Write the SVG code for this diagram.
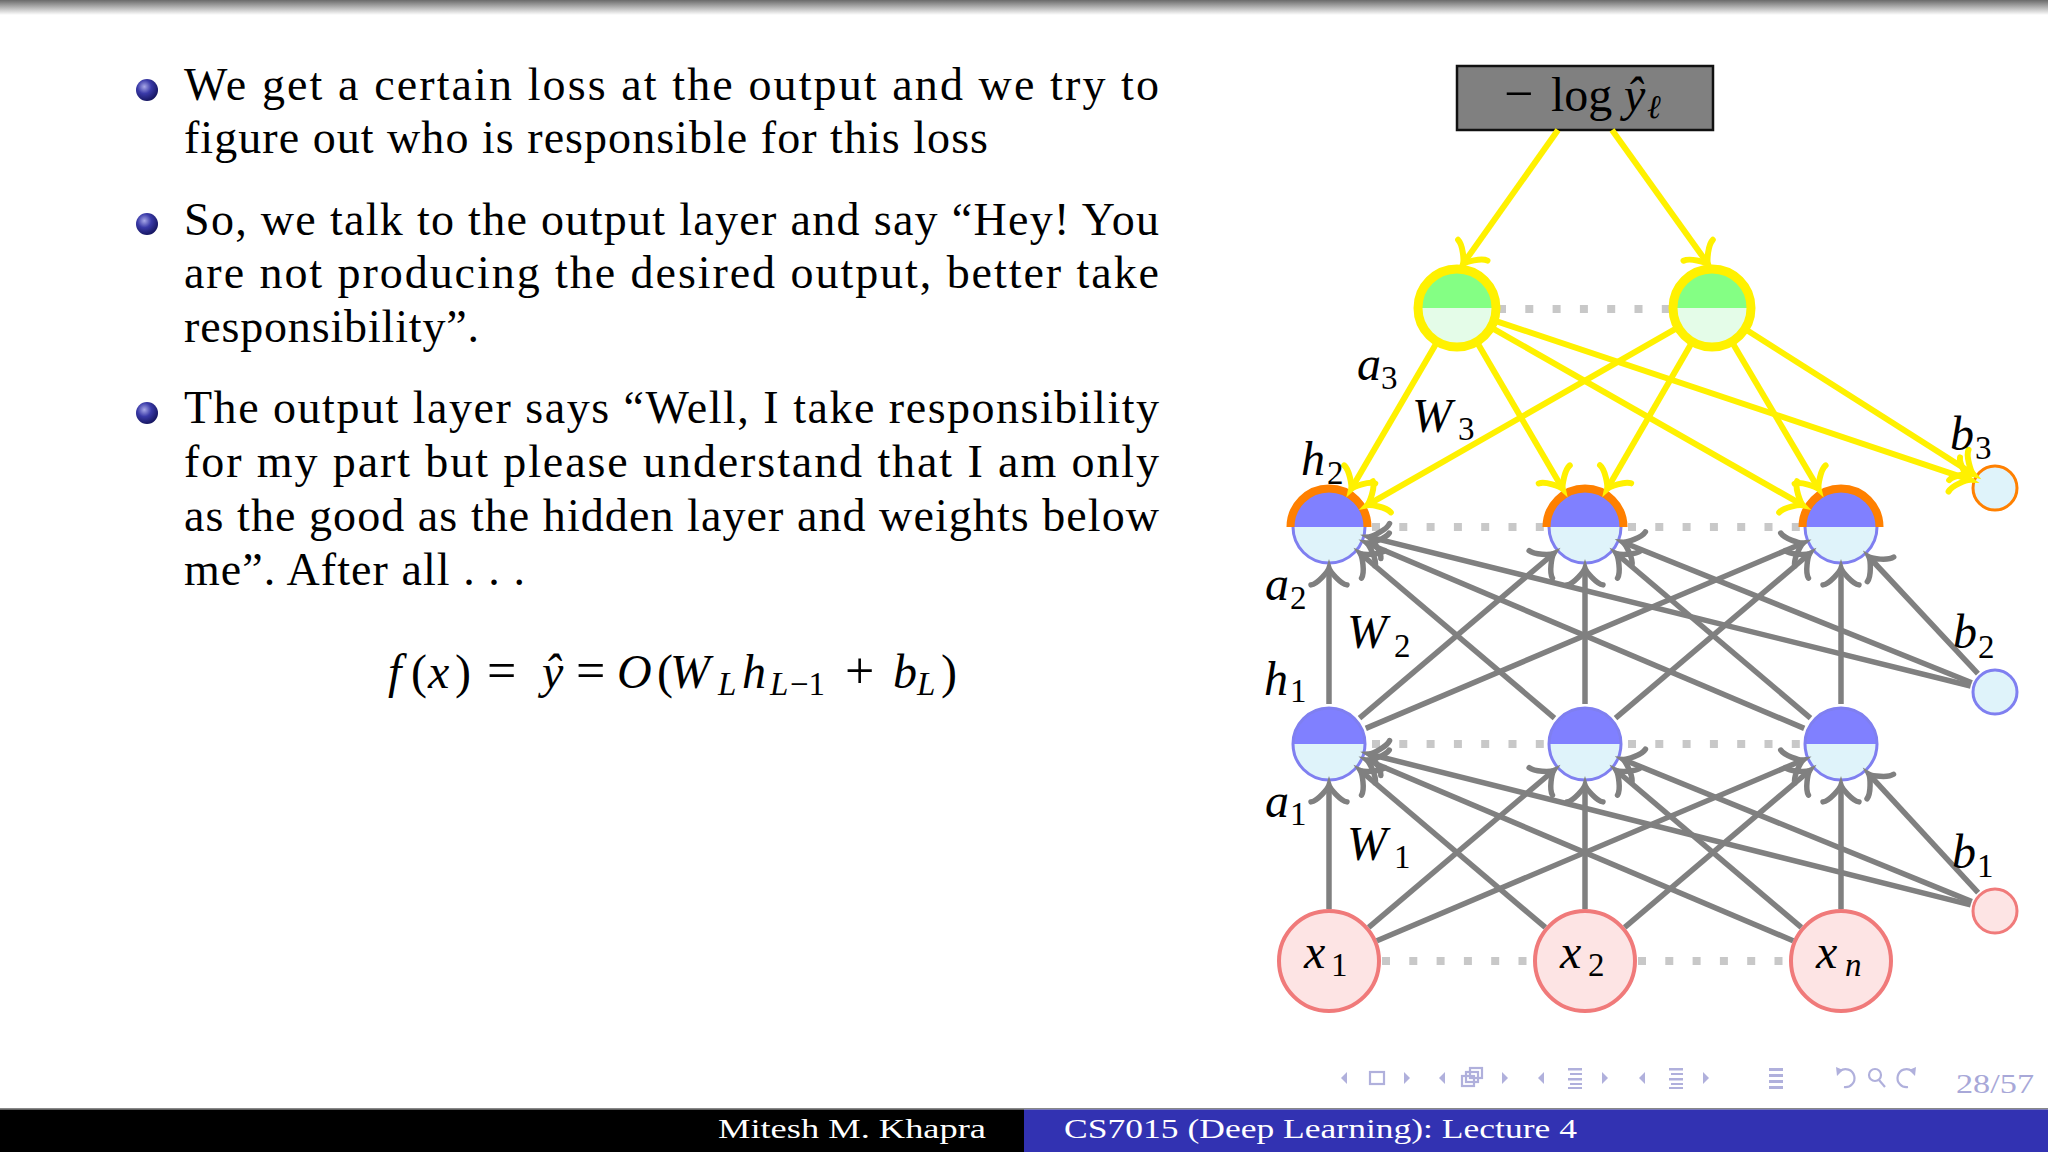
<svg xmlns="http://www.w3.org/2000/svg" width="2048" height="1152" viewBox="0 0 2048 1152">
<defs>
  <linearGradient id="topg" x1="0" y1="0" x2="0" y2="1">
    <stop offset="0" stop-color="#6a6a6a"/>
    <stop offset="1" stop-color="#ffffff"/>
  </linearGradient>
  <radialGradient id="ball" cx="0.38" cy="0.35" r="0.7">
    <stop offset="0" stop-color="#a8a8e8"/>
    <stop offset="0.45" stop-color="#3a3aa8"/>
    <stop offset="1" stop-color="#12125a"/>
  </radialGradient>
  <marker id="ay" markerUnits="userSpaceOnUse" markerWidth="44" markerHeight="44" viewBox="-22 -22 44 44" refX="0" refY="0" orient="auto" overflow="visible">
    <path d="M-16.9,-18 C-15.8,-11.2 -3.4,-1.1 0,0 C-3.4,1.1 -15.8,11.2 -16.9,18" fill="none" stroke="#FFF100" stroke-width="6" stroke-linecap="round"/>
  </marker>
  <marker id="ag" markerUnits="userSpaceOnUse" markerWidth="44" markerHeight="44" viewBox="-22 -22 44 44" refX="0" refY="0" orient="auto" overflow="visible">
    <path d="M-16.9,-18 C-15.8,-11.2 -3.4,-1.1 0,0 C-3.4,1.1 -15.8,11.2 -16.9,18" fill="none" stroke="#808080" stroke-width="5.5" stroke-linecap="round"/>
  </marker>
  <style>
    .body{font-family:"Liberation Serif","DejaVu Serif",serif;font-size:46px;fill:#000}
    .mi{font-family:"Liberation Serif","DejaVu Serif",serif;font-style:italic;font-size:48px;fill:#000}
    .rm{font-style:normal}
    .op{font-style:normal;font-size:52px}
    .sub{font-size:33px;font-style:normal}
    .subi{font-size:33px;font-style:italic}
    .dots{stroke:#C8C8C8;stroke-width:8;stroke-dasharray:8 19.3;fill:none}
    .ye{stroke:#FFF100;stroke-width:6;fill:none;marker-end:url(#ay)}
    .ge{stroke:#808080;stroke-width:5.5;fill:none;marker-end:url(#ag)}
    .hTop{fill:#8080FF}
    .hBot{fill:#DFF3FA}
    .hRing{fill:none;stroke:#7F7FF0;stroke-width:3}
    .cap{fill:none;stroke:#FF8000;stroke-width:8}
    .oTop{fill:#84FF84}
    .oBot{fill:#E4FCE8}
    .oRing{fill:none;stroke:#FFF100;stroke-width:9}
    .xNode{fill:#FDE4E4;stroke:#F07A7A;stroke-width:4}
    .nav{fill:#B0B0DC}
    .navs{fill:none;stroke:#B0B0DC;stroke-width:2.2}
  </style>
</defs>

<rect width="2048" height="1152" fill="#ffffff"/>
<rect x="0" y="0" width="2048" height="15" fill="url(#topg)"/>

<!-- Bullets and text -->
<g id="text-block">
  <circle cx="147" cy="90" r="11" fill="url(#ball)"/>
  <circle cx="147" cy="224" r="11" fill="url(#ball)"/>
  <circle cx="147" cy="413" r="11" fill="url(#ball)"/>
  <text class="body" x="184" y="100" textLength="975" lengthAdjust="spacing">We get a certain loss at the output and we try to</text>
  <text class="body" x="184" y="153" textLength="804" lengthAdjust="spacing">figure out who is responsible for this loss</text>
  <text class="body" x="184" y="235" textLength="975" lengthAdjust="spacing">So, we talk to the output layer and say “Hey! You</text>
  <text class="body" x="184" y="288" textLength="975" lengthAdjust="spacing">are not producing the desired output, better take</text>
  <text class="body" x="184" y="342" textLength="295" lengthAdjust="spacing">responsibility”.</text>
  <text class="body" x="184" y="423" textLength="975" lengthAdjust="spacing">The output layer says “Well, I take responsibility</text>
  <text class="body" x="184" y="477" textLength="975" lengthAdjust="spacing">for my part but please understand that I am only</text>
  <text class="body" x="184" y="531" textLength="975" lengthAdjust="spacing">as the good as the hidden layer and weights below</text>
  <text class="body" x="184" y="585" textLength="341" lengthAdjust="spacing">me”. After all . . .</text>
  <text class="mi" y="688"><tspan x="388">f</tspan><tspan class="rm" x="411">(</tspan><tspan x="428">x</tspan><tspan class="rm" x="455">)</tspan><tspan class="op" x="487">=</tspan><tspan x="542">ŷ</tspan><tspan class="op" x="576">=</tspan><tspan x="617">O</tspan><tspan class="rm" x="657">(</tspan><tspan x="670">W</tspan><tspan class="subi" x="718" y="695">L</tspan><tspan x="742" y="688">h</tspan><tspan class="subi" x="770" y="695">L</tspan><tspan class="sub" x="790" y="695">−1</tspan><tspan class="op" x="845" y="688">+</tspan><tspan x="893">b</tspan><tspan class="subi" x="917" y="695">L</tspan><tspan class="rm" x="941" y="688">)</tspan></text>
</g>

<!-- Dotted layer lines -->
<g id="dotted">
  <line class="dots" x1="1498" y1="309" x2="1672" y2="309"/>
  <line class="dots" x1="1372" y1="527" x2="1544" y2="527"/>
  <line class="dots" x1="1628" y1="527" x2="1800" y2="527"/>
  <line class="dots" x1="1372" y1="744" x2="1544" y2="744"/>
  <line class="dots" x1="1628" y1="744" x2="1800" y2="744"/>
  <line class="dots" x1="1382" y1="961" x2="1527" y2="961"/>
  <line class="dots" x1="1638" y1="961" x2="1783" y2="961"/>
</g>

<!-- Nodes -->
<g id="loss">
  <rect x="1457" y="66" width="256" height="64" fill="#808080" stroke="#111" stroke-width="2.5"/>
  <text class="mi" y="111"><tspan class="op" x="1504">−</tspan><tspan class="rm" x="1551">log</tspan><tspan x="1624">ŷ</tspan><tspan class="subi" x="1647" y="118">ℓ</tspan></text>
</g>
<g id="out1" transform="translate(1457,308)">
  <path class="oTop" d="M-39,0 A39,39 0 0 1 39,0 Z"/>
  <path class="oBot" d="M-39,0 A39,39 0 0 0 39,0 Z"/>
  <circle class="oRing" r="39"/>
</g>
<g id="out2" transform="translate(1712,308)">
  <path class="oTop" d="M-39,0 A39,39 0 0 1 39,0 Z"/>
  <path class="oBot" d="M-39,0 A39,39 0 0 0 39,0 Z"/>
  <circle class="oRing" r="39"/>
</g>
<g id="h2-1" transform="translate(1329,527)">
  <path class="hTop" d="M-36,0 A36,36 0 0 1 36,0 Z"/>
  <path class="hBot" d="M-36,0 A36,36 0 0 0 36,0 Z"/>
  <circle class="hRing" r="36"/>
  <path class="cap" d="M-38.5,0 A38.5,38.5 0 0 1 38.5,0"/>
</g>
<g id="h2-2" transform="translate(1585,527)">
  <path class="hTop" d="M-36,0 A36,36 0 0 1 36,0 Z"/>
  <path class="hBot" d="M-36,0 A36,36 0 0 0 36,0 Z"/>
  <circle class="hRing" r="36"/>
  <path class="cap" d="M-38.5,0 A38.5,38.5 0 0 1 38.5,0"/>
</g>
<g id="h2-3" transform="translate(1841,527)">
  <path class="hTop" d="M-36,0 A36,36 0 0 1 36,0 Z"/>
  <path class="hBot" d="M-36,0 A36,36 0 0 0 36,0 Z"/>
  <circle class="hRing" r="36"/>
  <path class="cap" d="M-38.5,0 A38.5,38.5 0 0 1 38.5,0"/>
</g>
<g id="h1-1" transform="translate(1329,744)">
  <path class="hTop" d="M-36,0 A36,36 0 0 1 36,0 Z"/>
  <path class="hBot" d="M-36,0 A36,36 0 0 0 36,0 Z"/>
  <circle class="hRing" r="36"/>
</g>
<g id="h1-2" transform="translate(1585,744)">
  <path class="hTop" d="M-36,0 A36,36 0 0 1 36,0 Z"/>
  <path class="hBot" d="M-36,0 A36,36 0 0 0 36,0 Z"/>
  <circle class="hRing" r="36"/>
</g>
<g id="h1-3" transform="translate(1841,744)">
  <path class="hTop" d="M-36,0 A36,36 0 0 1 36,0 Z"/>
  <path class="hBot" d="M-36,0 A36,36 0 0 0 36,0 Z"/>
  <circle class="hRing" r="36"/>
</g>
<g id="x1">
  <circle class="xNode" cx="1329" cy="961" r="50"/>
  <text class="mi" x="1304" y="968">x<tspan class="sub" x="1331" y="976">1</tspan></text>
</g>
<g id="x2">
  <circle class="xNode" cx="1585" cy="961" r="50"/>
  <text class="mi" x="1560" y="968">x<tspan class="sub" x="1588" y="976">2</tspan></text>
</g>
<g id="xn">
  <circle class="xNode" cx="1841" cy="961" r="50"/>
  <text class="mi" x="1816" y="968">x<tspan class="subi" x="1845" y="976">n</tspan></text>
</g>
<g id="b3">
  <circle cx="1995" cy="488" r="22" fill="#DFF3FA" stroke="#FF8000" stroke-width="3"/>
</g>
<g id="b2">
  <circle cx="1995" cy="692" r="22" fill="#DFF3FA" stroke="#7F7FF0" stroke-width="3"/>
</g>
<g id="b1">
  <circle cx="1995" cy="911" r="22" fill="#FDE4E4" stroke="#F07A7A" stroke-width="3"/>
</g>

<!-- Connectors -->
<g id="connectors">
  <path class="ye" d="M1558,130 L1463,264"/>
  <path class="ye" d="M1612,130 L1708,264"/>
  <path class="ye" d="M1435.8,344.3 L1351.2,489"/>
  <path class="ye" d="M1478.2,344.3 L1562.8,489"/>
  <path class="ye" d="M1493.5,328.8 L1802.8,505.2"/>
  <path class="ye" d="M1496.8,321.3 L1970.3,479.8"/>
  <path class="ye" d="M1675.5,328.8 L1367.2,505.2"/>
  <path class="ye" d="M1690.9,344.3 L1607.1,488.9"/>
  <path class="ye" d="M1733.3,344.2 L1818.7,489.1"/>
  <path class="ye" d="M1747.4,330.5 L1973.1,474"/>

  <path class="ge" d="M1329,704 L1329,568"/>
  <path class="ge" d="M1585,704 L1585,568"/>
  <path class="ge" d="M1841,704 L1841,568"/>
  <path class="ge" d="M1359.5,718.1 L1553.7,553.5"/>
  <path class="ge" d="M1365.8,728.4 L1803.3,543"/>
  <path class="ge" d="M1554.5,718.1 L1360.3,553.5"/>
  <path class="ge" d="M1615.5,718.1 L1809.7,553.5"/>
  <path class="ge" d="M1804.2,728.4 L1366.7,543"/>
  <path class="ge" d="M1810.5,718.1 L1616.3,553.5"/>
  <path class="ge" d="M1970.7,686 L1368.8,536.9"/>
  <path class="ge" d="M1971.8,682.7 L1623,542.3"/>
  <path class="ge" d="M1977.9,673.7 L1869,557"/>

  <path class="ge" d="M1329,909 L1329,785"/>
  <path class="ge" d="M1585,909 L1585,785"/>
  <path class="ge" d="M1841,909 L1841,785"/>
  <path class="ge" d="M1368.7,927.4 L1553.7,770.5"/>
  <path class="ge" d="M1376.9,940.7 L1803.3,760"/>
  <path class="ge" d="M1545.3,927.4 L1360.3,770.5"/>
  <path class="ge" d="M1624.7,927.4 L1809.7,770.5"/>
  <path class="ge" d="M1793.1,940.7 L1366.7,760"/>
  <path class="ge" d="M1801.3,927.4 L1616.3,770.5"/>
  <path class="ge" d="M1970.7,904.9 L1368.8,754"/>
  <path class="ge" d="M1971.8,901.6 L1623,759.5"/>
  <path class="ge" d="M1978.1,892.6 L1868.8,774.1"/>
</g>

<!-- Graph labels -->
<g id="labels">
  <text class="mi" x="1357" y="380">a<tspan class="sub" x="1381" y="389">3</tspan></text>
  <text class="mi" x="1412" y="432">W<tspan class="sub" x="1458" y="440">3</tspan></text>
  <text class="mi" x="1301" y="475">h<tspan class="sub" x="1327" y="484">2</tspan></text>
  <text class="mi" x="1950" y="450">b<tspan class="sub" x="1975" y="459">3</tspan></text>
  <text class="mi" x="1265" y="600">a<tspan class="sub" x="1290" y="609">2</tspan></text>
  <text class="mi" x="1347" y="648">W<tspan class="sub" x="1394" y="657">2</tspan></text>
  <text class="mi" x="1264" y="695">h<tspan class="sub" x="1290" y="702">1</tspan></text>
  <text class="mi" x="1953" y="648">b<tspan class="sub" x="1978" y="658">2</tspan></text>
  <text class="mi" x="1265" y="817">a<tspan class="sub" x="1290" y="825">1</tspan></text>
  <text class="mi" x="1347" y="860">W<tspan class="sub" x="1394" y="868">1</tspan></text>
  <text class="mi" x="1952" y="868">b<tspan class="sub" x="1977" y="877">1</tspan></text>
</g>

<!-- Navigation symbols -->
<g id="navigation">
  <path class="nav" d="M1347,1072 L1341,1078 L1347,1084 Z"/>
  <rect class="navs" x="1370" y="1072" width="14" height="12"/>
  <path class="nav" d="M1404,1072 L1410,1078 L1404,1084 Z"/>
  <path class="nav" d="M1445,1072 L1439,1078 L1445,1084 Z"/>
  <rect class="navs" x="1462" y="1076" width="12" height="10"/>
  <rect class="navs" x="1466" y="1072" width="12" height="10" fill="#fff"/>
  <rect class="navs" x="1470" y="1068" width="12" height="10" fill="#fff"/>
  <path class="nav" d="M1502,1072 L1508,1078 L1502,1084 Z"/>
  <path class="nav" d="M1544,1072 L1538,1078 L1544,1084 Z"/>
  <rect class="nav" x="1568" y="1068" width="14" height="2.5"/>
  <rect class="nav" x="1570" y="1073" width="12" height="2"/>
  <rect class="nav" x="1568" y="1078" width="14" height="2.5"/>
  <rect class="nav" x="1570" y="1083" width="12" height="2"/>
  <rect class="nav" x="1568" y="1087" width="14" height="2"/>
  <path class="nav" d="M1602,1072 L1608,1078 L1602,1084 Z"/>
  <path class="nav" d="M1645,1072 L1639,1078 L1645,1084 Z"/>
  <rect class="nav" x="1669" y="1068" width="14" height="2.5"/>
  <rect class="nav" x="1671" y="1073" width="12" height="2"/>
  <rect class="nav" x="1669" y="1078" width="14" height="2.5"/>
  <rect class="nav" x="1671" y="1083" width="12" height="2"/>
  <rect class="nav" x="1669" y="1087" width="14" height="2"/>
  <path class="nav" d="M1703,1072 L1709,1078 L1703,1084 Z"/>
  <rect class="nav" x="1769" y="1068" width="14" height="3"/>
  <rect class="nav" x="1769" y="1074" width="14" height="3"/>
  <rect class="nav" x="1769" y="1080" width="14" height="3"/>
  <rect class="nav" x="1769" y="1086" width="14" height="3"/>
  <path class="navs" d="M1840,1071 A9,9 0 1 1 1844,1087"/>
  <path class="nav" d="M1836,1067 L1843,1070 L1837,1076 Z"/>
  <circle class="navs" cx="1875" cy="1075" r="6"/>
  <path class="navs" d="M1879,1080 L1885,1087"/>
  <path class="navs" d="M1912,1071 A9,9 0 1 0 1908,1087"/>
  <path class="nav" d="M1916,1067 L1909,1070 L1915,1076 Z"/>
  <text x="1956" y="1093" font-family="'Liberation Serif',serif" font-size="28" fill="#A8A8D8" textLength="78" lengthAdjust="spacingAndGlyphs">28/57</text>
</g>

<!-- Footer -->
<g id="footer">
  <rect x="0" y="1108" width="2048" height="1.5" fill="#888888"/>
  <rect x="0" y="1109.5" width="1024" height="42.5" fill="#000000"/>
  <rect x="1024" y="1109.5" width="1024" height="42.5" fill="#3232B2"/>
  <text x="718" y="1138" font-family="'Liberation Serif',serif" font-size="28" fill="#ffffff" textLength="268" lengthAdjust="spacingAndGlyphs">Mitesh M. Khapra</text>
  <text x="1064" y="1138" font-family="'Liberation Serif',serif" font-size="28" fill="#ffffff" textLength="513" lengthAdjust="spacingAndGlyphs">CS7015 (Deep Learning): Lecture 4</text>
</g>
</svg>
